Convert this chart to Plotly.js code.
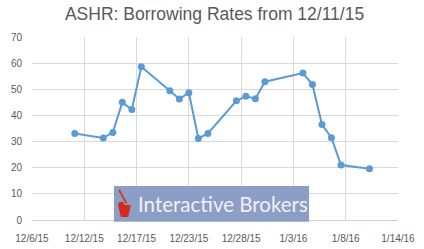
<!DOCTYPE html>
<html>
<head>
<meta charset="utf-8">
<script src="https://cdn.plot.ly/plotly-3.0.1.min.js"></script>
<style>html,body{margin:0;padding:0;background:#fff;}#chart{width:424px;height:249px;}</style>
</head>
<body>
<div id="chart"></div>
<script>
var dates = ['2015-12-11','2015-12-14','2015-12-15','2015-12-16','2015-12-17','2015-12-18',
  '2015-12-21','2015-12-22','2015-12-23','2015-12-24','2015-12-25',
  '2015-12-28','2015-12-29','2015-12-30','2015-12-31',
  '2016-01-04','2016-01-05','2016-01-06','2016-01-07','2016-01-08','2016-01-11'];
var rates = [33.1,31.4,33.5,45.0,42.3,58.6,49.4,46.3,48.7,31.2,33.1,45.6,47.3,46.4,52.9,56.2,51.8,36.5,31.5,21.0,19.6];
var tickVals = ['2015-12-06 12:00','2015-12-12 00:00','2015-12-17 12:00','2015-12-23 00:00','2015-12-28 12:00','2016-01-03 00:00','2016-01-08 12:00','2016-01-14 00:00'];
var tickText = ['12/6/15','12/12/15','12/17/15','12/23/15','12/28/15','1/3/16','1/8/16','1/14/16'];
var yTicks = [0,10,20,30,40,50,60,70];
var titleText = 'ASHR: Borrowing Rates from 12/11/15';
var watermark = 'Interactive Brokers';

var trace = {
  x: dates, y: rates, type: 'scatter', mode: 'lines+markers',
  line: {color: '#5b9bd5', width: 2},
  marker: {color: '#5b9bd5', size: 7}
};
var layout = {
  width: 424, height: 249,
  margin: {l: 32, r: 26, t: 37, b: 29},
  paper_bgcolor: '#fff', plot_bgcolor: '#fff',
  showlegend: false,
  font: {family: 'Liberation Sans, Arial, sans-serif', color: '#595959', size: 10},
  title: {text: titleText, x: 0.506, xanchor: 'center', y: 0.945, yanchor: 'middle',
          font: {family: 'Liberation Sans, Arial, sans-serif', size: 17.5, color: '#595959'}},
  xaxis: {type: 'date', range: ['2015-12-06 12:00','2016-01-14 00:00'],
          tickmode: 'array', tickvals: tickVals, ticktext: tickText,
          showgrid: true, gridcolor: '#d9d9d9', gridwidth: 1,
          showline: false, zeroline: false, ticks: 'outside', ticklen: 9, tickcolor: 'rgba(0,0,0,0)',
          tickfont: {size: 10, color: '#595959'}},
  yaxis: {range: [0, 70], tickmode: 'array', tickvals: yTicks,
          showgrid: true, gridcolor: '#d9d9d9', gridwidth: 1,
          zeroline: true, zerolinecolor: '#d0d0d0', showline: false,
          ticks: 'outside', ticklen: 7, tickcolor: 'rgba(0,0,0,0)',
          tickfont: {size: 10, color: '#595959'}},
  shapes: [
    {type: 'rect', xref: 'paper', yref: 'paper', x0: 0.224, x1: 0.757, y0: -0.009, y1: 0.186,
     fillcolor: '#8d9ec6', line: {width: 0}, layer: 'above'},
    {type: 'path', xref: 'paper', yref: 'paper',
     path: 'M 0.235 0.082 L 0.270 0.082 L 0.263 0.016 L 0.243 0.016 Z',
     fillcolor: '#d42b1e', line: {width: 0}, layer: 'above'},
    {type: 'path', xref: 'paper', yref: 'paper',
     path: 'M 0.238 0.164 L 0.258 0.090',
     line: {color: '#c9402c', width: 2}, layer: 'above'},
    {type: 'circle', xref: 'paper', yref: 'paper', x0: 0.236, x1: 0.252, y0: 0.068, y1: 0.100,
     fillcolor: '#d42b1e', line: {width: 0}, layer: 'above'}
  ],
  annotations: [
    {text: watermark, xref: 'paper', yref: 'paper', x: 0.522, y: 0.087,
     xanchor: 'center', yanchor: 'middle', showarrow: false,
     font: {family: 'Lato, Open Sans, sans-serif', size: 20.5, color: '#eef1f8'}}
  ]
};
Plotly.newPlot('chart', [trace], layout, {displayModeBar: false, staticPlot: true});
</script>
</body>
</html>
